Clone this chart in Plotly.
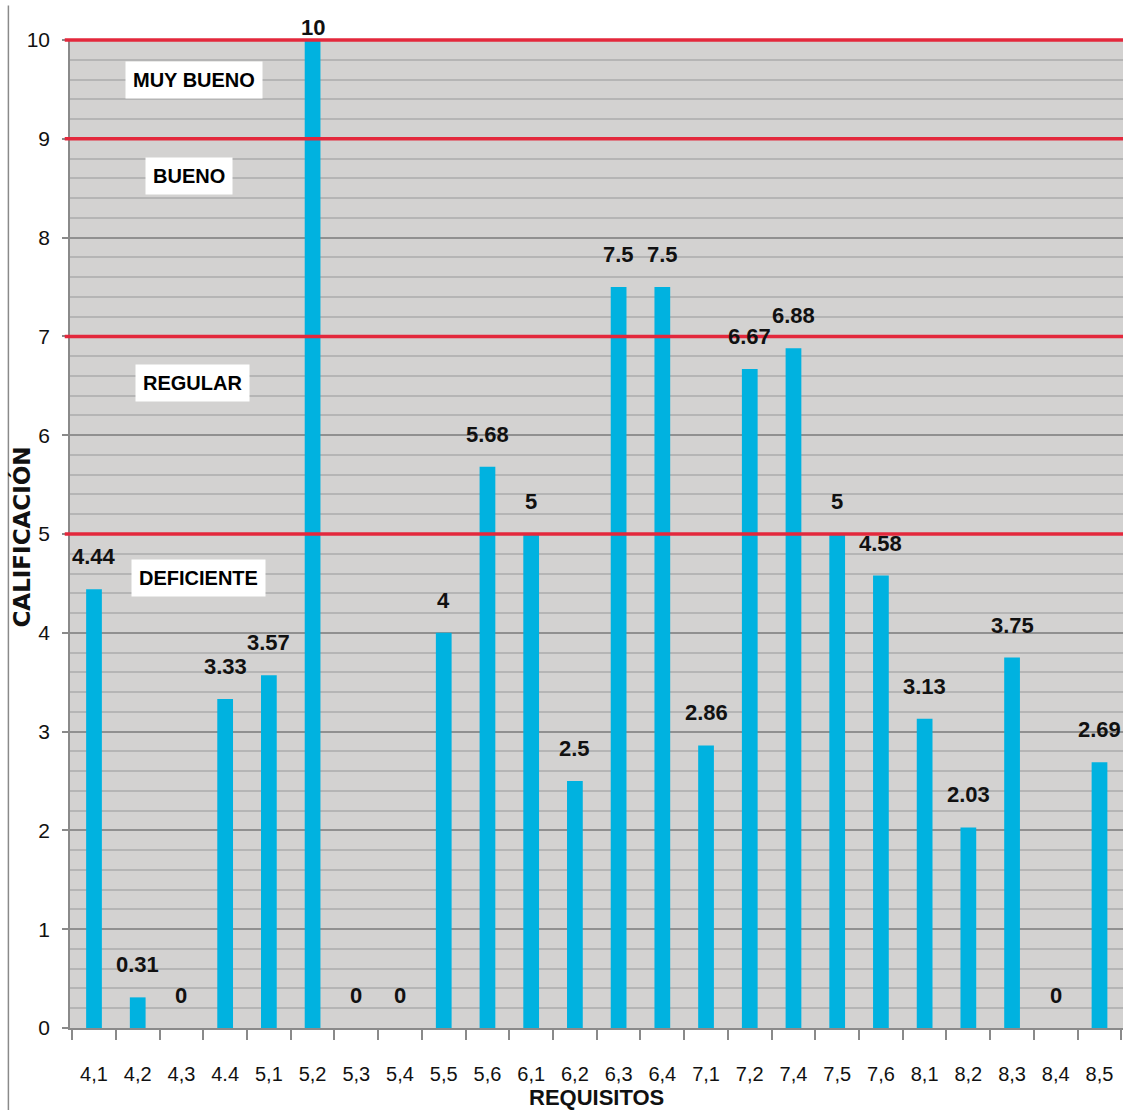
import plotly.graph_objects as go

# Requirement codes and their scores
requisitos = ["4,1", "4,2", "4,3", "4.4", "5,1", "5,2", "5,3", "5,4", "5,5", "5,6",
              "6,1", "6,2", "6,3", "6,4", "7,1", "7,2", "7,4", "7,5", "7,6",
              "8,1", "8,2", "8,3", "8,4", "8,5"]
calificacion = [4.44, 0.31, 0, 3.33, 3.57, 10, 0, 0, 4, 5.68,
                5, 2.5, 7.5, 7.5, 2.86, 6.67, 6.88, 5, 4.58,
                3.13, 2.03, 3.75, 0, 2.69]
value_labels = ["4.44", "0.31", "0", "3.33", "3.57", "10", "0", "0", "4", "5.68",
                "5", "2.5", "7.5", "7.5", "2.86", "6.67", "6.88", "5", "4.58",
                "3.13", "2.03", "3.75", "0", "2.69"]

# Rating band limits and band names
limites = [5, 7, 9, 10]
bandas = ["MUY BUENO", "BUENO", "REGULAR", "DEFICIENTE"]
banda_y = [9.6, 8.62, 6.53, 4.55]
banda_x = [0.1175, 0.113, 0.1166, 0.122]

y_tick_vals = list(range(0, 11))
Y_MAX = 10

FONT = "Liberation Sans, Arial, sans-serif"

fig = go.Figure()
fig.add_trace(go.Bar(
    x=requisitos,
    y=calificacion,
    marker=dict(color="#00b2e0", line=dict(width=0)),
    hoverinfo="x+y",
))

# value labels above each bar (tucked under the top edge when at the maximum);
# positions use the category index so codes like "4.4" are not read as numbers
for idx, (val, lab) in enumerate(zip(calificacion, value_labels)):
    fig.add_annotation(
        x=idx, y=val, text=lab, showarrow=False,
        xanchor="center", yanchor="bottom",
        yshift=18 if val < Y_MAX else -2,
        font=dict(family=FONT, size=22, color="#111111", weight="bold"),
    )

# band limit lines (paper coordinates so the top line is not clipped)
for lim in limites:
    fig.add_shape(
        type="line", xref="paper", yref="paper",
        x0=-0.005, x1=1, y0=lim / Y_MAX, y1=lim / Y_MAX,
        line=dict(color="#e3283c", width=3.5),
        layer="above",
    )

# band names in white boxes
for name, by, bx in zip(bandas, banda_y, banda_x):
    fig.add_annotation(
        x=bx, xref="paper", y=by, yref="y", text=f"<b>{name}</b>",
        showarrow=False, xanchor="center", yanchor="middle",
        bgcolor="white", borderpad=7,
        font=dict(family=FONT, size=20, color="#000000"),
    )

# thin frame line on the left side of the chart
fig.add_shape(
    type="line", xref="paper", yref="paper",
    x0=-0.0585, x1=-0.0585, y0=-0.083, y1=1.035,
    line=dict(color="#8a8a8a", width=1.5),
)

# axis titles
fig.add_annotation(
    x=0.5, xref="paper", y=-0.07, yref="paper", text="<b>REQUISITOS</b>",
    showarrow=False, xanchor="center", yanchor="middle",
    font=dict(family=FONT, size=22, color="#111111"),
)
fig.add_annotation(
    x=-0.046, xref="paper", y=0.497, yref="paper", text="<b>CALIFICACIÓN</b>",
    showarrow=False, xanchor="center", yanchor="middle", textangle=-90,
    font=dict(family="DejaVu Sans, sans-serif", size=23, color="#111111"),
)

fig.update_layout(
    width=1131, height=1115,
    margin=dict(l=70, r=8, t=40, b=87),
    paper_bgcolor="white",
    plot_bgcolor="#d3d2d1",
    bargap=0.64,
    showlegend=False,
    xaxis=dict(
        type="category",
        showgrid=False,
        showline=True, linecolor="#8a8a8a", linewidth=1.5,
        ticks="outside", ticklen=10, tickcolor="#8a8a8a", tickwidth=1.5,
        tickson="boundaries",
        ticklabelstandoff=27,
        tickfont=dict(family=FONT, size=20, color="#111111"),
    ),
    yaxis=dict(
        range=[0, Y_MAX],
        tickvals=y_tick_vals,
        ticktext=[str(v) for v in y_tick_vals],
        showgrid=True, gridcolor="#909090", gridwidth=1.5,
        minor=dict(dtick=0.2, showgrid=True, gridcolor="#b5b5b5", gridwidth=1.5),
        showline=True, linecolor="#8a8a8a", linewidth=1.5,
        ticks="outside", ticklen=6, tickcolor="#8a8a8a", tickwidth=1.5,
        ticklabelstandoff=8,
        tickfont=dict(family=FONT, size=21, color="#111111"),
        zeroline=False,
    ),
)

fig.write_html("out.html")
